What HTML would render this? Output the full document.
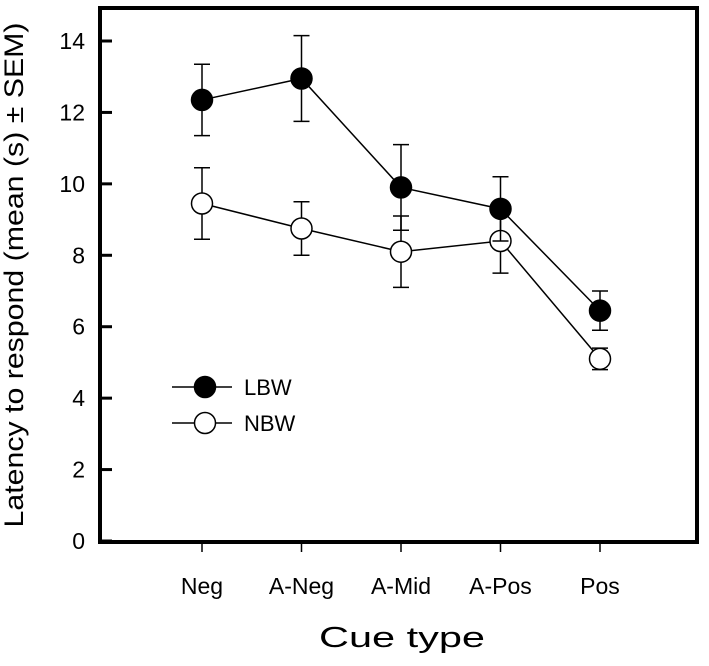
<!DOCTYPE html>
<html><head><meta charset="utf-8"><style>
html,body{margin:0;padding:0;background:#fff;}
svg{display:block;font-family:"Liberation Sans",Arial,sans-serif;}
</style></head><body>
<svg id="chart" width="709" height="666" xmlns="http://www.w3.org/2000/svg">
<rect x="100" y="8" width="597" height="534" fill="none" stroke="#000" stroke-width="4"/>
<g id="yticks"></g>
<g id="xticks"></g>
<g id="series"></g>
<text x="23" y="275" font-size="27" text-anchor="middle" textLength="505" lengthAdjust="spacingAndGlyphs" transform="rotate(-90 23 275)">Latency to respond (mean (s) ± SEM)</text>
<text x="402" y="647" font-size="29" text-anchor="middle" textLength="166" lengthAdjust="spacingAndGlyphs">Cue type</text>
<g>
<g>
<line x1="172" y1="387" x2="232" y2="387" stroke="#000" stroke-width="1.5"/>
<circle cx="205" cy="387" r="10.5" fill="#000" stroke="#000" stroke-width="1.5"/>
<text x="244" y="395" font-size="22">LBW</text></g>
<g>
<line x1="172" y1="423" x2="232" y2="423" stroke="#000" stroke-width="1.5"/>
<circle cx="205" cy="423" r="10.5" fill="#fff" stroke="#000" stroke-width="1.5"/>
<text x="244" y="431" font-size="22">NBW</text></g>
</g>
</svg>
<script>
const categories=["Neg","A-Neg","A-Mid","A-Pos","Pos"];
const lbwValues=[12.35,12.95,9.9,9.3,6.45];
const lbwErrors=[1.0,1.2,1.2,0.9,0.55];
const nbwValues=[9.45,8.75,8.1,8.4,5.1];
const nbwErrors=[1.0,0.75,1.0,0.9,0.3];
const yTicks=[0,2,4,6,8,10,12,14];
const NS="http://www.w3.org/2000/svg";
function y(v){return 541-v*(500/14);}
function x(i){return 202+i*99.5;}
function mk(tag,attrs,parent){const e=document.createElementNS(NS,tag);for(const k in attrs)e.setAttribute(k,attrs[k]);parent.appendChild(e);return e;}
const yg=document.getElementById('yticks');
yTicks.forEach(t=>{
 const l=mk('line',{x1:100,x2:112,y1:y(t),y2:y(t),stroke:'#000','stroke-width':3},yg);
 
 
 const tx=mk('text',{x:85,y:y(t)+8,'font-size':23,'text-anchor':'end'},yg);
 tx.textContent=t;
 
 
});
const xg=document.getElementById('xticks');
categories.forEach((c,i)=>{
 const l=mk('line',{x1:x(i),x2:x(i),y1:542,y2:552,stroke:'#000','stroke-width':1.5},xg);
 
 
 const tx=mk('text',{x:x(i),y:594,'font-size':23,'text-anchor':'middle'},xg);
 tx.textContent=c;
 
 
});
const sg=document.getElementById('series');
function drawSeries(vals,errs,fill,name){
 const g=mk('g',{},sg);
 
 
 const p=mk('polyline',{points:vals.map((v,i)=>x(i)+','+y(v)).join(' '),fill:'none',stroke:'#000','stroke-width':1.5},g);
 
 
 vals.forEach((v,i)=>{
  const eb=mk('path',{d:`M${x(i)},${y(v-errs[i])}V${y(v+errs[i])}M${x(i)-8},${y(v-errs[i])}H${x(i)+8}M${x(i)-8},${y(v+errs[i])}H${x(i)+8}`,stroke:'#000','stroke-width':1.5,fill:'none'},g);
  
  
 });
 vals.forEach((v,i)=>{
  const c=mk('circle',{cx:x(i),cy:y(v),r:10.5,fill:fill,stroke:'#000','stroke-width':1.5},g);
  
  
 });
}
drawSeries(nbwValues,nbwErrors,'#fff','nbw');
drawSeries(lbwValues,lbwErrors,'#000','lbw');
</script>
</body></html>
